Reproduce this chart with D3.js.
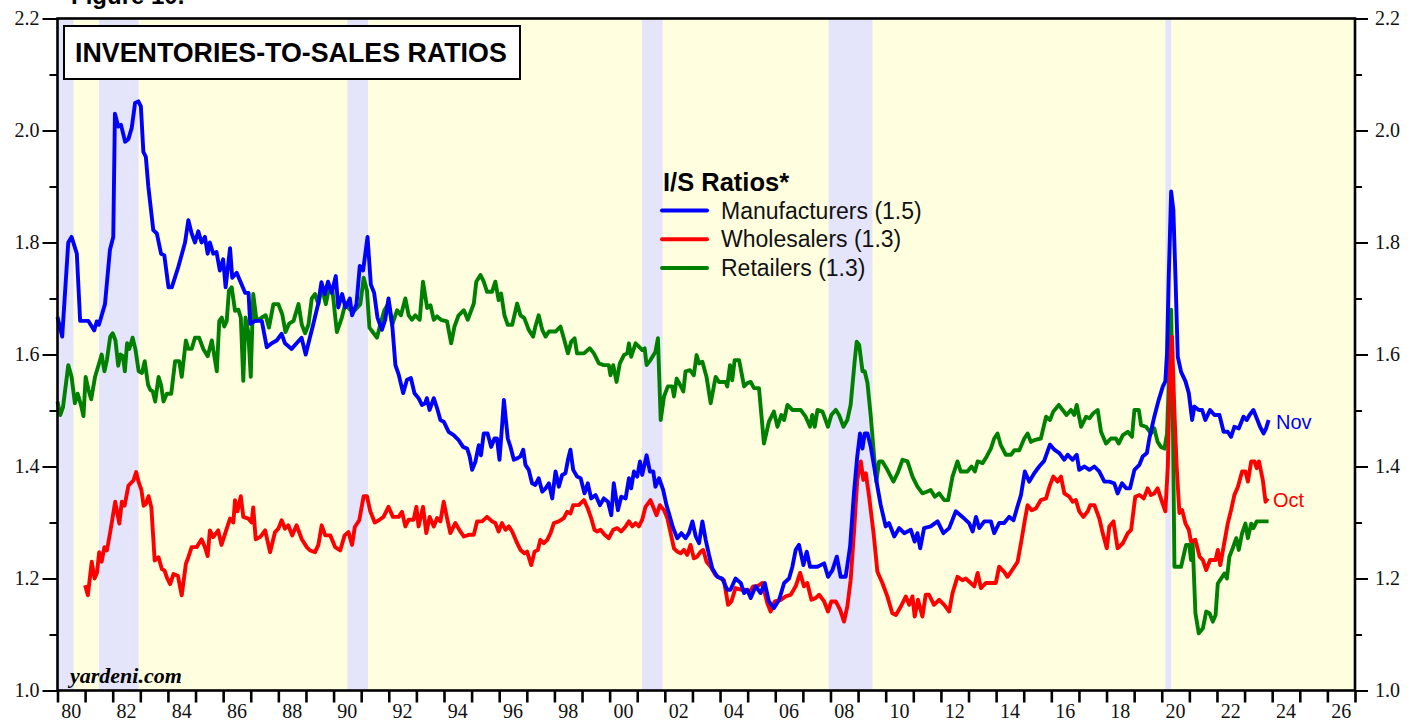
<!DOCTYPE html>
<html>
<head>
<meta charset="utf-8">
<script src="https://cdn.jsdelivr.net/npm/d3@7"></script>
<style>
  body { margin: 0; background: #fff; }
  svg { display: block; }
</style>
</head>
<body>
<svg id="chart" width="1421" height="721"></svg>
<script>
// recessions [start, end] in decimal years
const recessions = [[1980.0, 1980.58], [1981.5, 1982.94], [1990.5, 1991.25], [2001.17, 2001.92], [2007.93, 2009.52], [2020.13, 2020.34]];

const majorTicks = [1.0, 1.2, 1.4, 1.6, 1.8, 2.0, 2.2];
const minorTicks = [1.1, 1.3, 1.5, 1.7, 1.9, 2.1];
const years = d3.range(1980, 2028);
const labelYears = d3.range(1980, 2027, 2);

const seriesNames = ["Manufacturers (1.5)", "Wholesalers (1.3)", "Retailers (1.3)"];
const seriesColors = ["#0000ff", "#ff0000", "#008000"];

// [decimal year, ratio]
const manufacturers = [
  [1980.0,1.667],[1980.17,1.632],[1980.39,1.80],[1980.51,1.81],[1980.7,1.78],[1980.82,1.66],[1981.12,1.66],[1981.33,1.643],[1981.42,1.659],[1981.5,1.653],
  [1981.72,1.69],[1981.9,1.787],[1982.02,1.81],[1982.08,2.03],[1982.2,2.007],[1982.3,2.01],[1982.45,1.98],[1982.57,1.985],[1982.69,2.005],[1982.81,2.049],
  [1982.93,2.052],[1983.02,2.043],[1983.11,1.962],[1983.2,1.953],[1983.29,1.90],[1983.47,1.822],[1983.6,1.816],[1983.75,1.78],[1983.87,1.777],[1984.02,1.72],
  [1984.14,1.72],[1984.38,1.757],[1984.62,1.80],[1984.74,1.84],[1984.86,1.816],[1984.98,1.80],[1985.1,1.82],[1985.22,1.80],[1985.34,1.81],[1985.44,1.78],
  [1985.52,1.80],[1985.64,1.78],[1985.76,1.783],[1985.88,1.75],[1986.0,1.77],[1986.09,1.72],[1986.25,1.79],[1986.33,1.737],[1986.49,1.746],[1986.67,1.725],
  [1986.8,1.71],[1986.92,1.71],[1986.98,1.655],[1987.16,1.66],[1987.4,1.66],[1987.58,1.613],[1987.76,1.62],[1987.94,1.625],[1988.12,1.637],[1988.24,1.62],
  [1988.48,1.61],[1988.66,1.62],[1988.84,1.63],[1988.99,1.60],[1989.14,1.63],[1989.26,1.653],[1989.44,1.69],[1989.56,1.729],[1989.68,1.708],[1989.8,1.73],
  [1989.93,1.71],[1990.08,1.74],[1990.17,1.684],[1990.31,1.708],[1990.43,1.684],[1990.59,1.70],[1990.67,1.67],[1990.83,1.69],[1990.95,1.758],[1991.07,1.75],
  [1991.23,1.81],[1991.35,1.725],[1991.47,1.71],[1991.59,1.666],[1991.75,1.644],[1991.87,1.662],[1991.99,1.70],[1992.12,1.656],[1992.24,1.581],[1992.36,1.564],
  [1992.52,1.531],[1992.66,1.555],[1992.8,1.558],[1992.93,1.531],[1993.08,1.522],[1993.2,1.51],[1993.32,1.513],[1993.38,1.522],[1993.48,1.501],[1993.63,1.522],
  [1993.75,1.504],[1993.87,1.483],[1993.99,1.48],[1994.17,1.462],[1994.35,1.456],[1994.53,1.447],[1994.69,1.435],[1994.84,1.432],[1994.93,1.418],[1995.02,1.394],
  [1995.14,1.409],[1995.26,1.438],[1995.34,1.42],[1995.44,1.459],[1995.58,1.459],[1995.71,1.435],[1995.83,1.45],[1995.92,1.45],[1996.01,1.412],[1996.11,1.477],
  [1996.17,1.519],[1996.23,1.489],[1996.31,1.45],[1996.41,1.435],[1996.53,1.412],[1996.67,1.415],[1996.77,1.418],[1996.87,1.43],[1996.95,1.403],[1997.07,1.394],
  [1997.19,1.37],[1997.31,1.367],[1997.43,1.379],[1997.56,1.355],[1997.68,1.361],[1997.8,1.37],[1997.92,1.343],[1998.04,1.391],[1998.16,1.364],[1998.28,1.385],
  [1998.4,1.388],[1998.49,1.412],[1998.58,1.43],[1998.68,1.394],[1998.82,1.382],[1998.95,1.379],[1999.09,1.352],[1999.21,1.37],[1999.33,1.343],[1999.49,1.349],
  [1999.65,1.331],[1999.79,1.343],[1999.94,1.337],[2000.06,1.313],[2000.15,1.37],[2000.3,1.322],[2000.42,1.346],[2000.58,1.343],[2000.7,1.379],[2000.78,1.361],
  [2000.88,1.391],[2001.0,1.382],[2001.1,1.409],[2001.18,1.385],[2001.34,1.42],[2001.46,1.391],[2001.58,1.391],[2001.66,1.364],[2001.79,1.379],[2001.94,1.358],
  [2002.06,1.331],[2002.15,1.316],[2002.3,1.29],[2002.45,1.272],[2002.6,1.281],[2002.75,1.272],[2002.87,1.281],[2003.0,1.302],[2003.12,1.275],[2003.24,1.263],
  [2003.36,1.302],[2003.48,1.269],[2003.6,1.242],[2003.72,1.218],[2003.9,1.203],[2004.08,1.2],[2004.26,1.18],[2004.38,1.18],[2004.56,1.2],[2004.75,1.192],
  [2004.87,1.174],[2004.99,1.18],[2005.11,1.165],[2005.29,1.186],[2005.47,1.174],[2005.62,1.192],[2005.77,1.159],[2005.95,1.147],[2006.14,1.162],[2006.32,1.192],
  [2006.5,1.2],[2006.62,1.221],[2006.74,1.251],[2006.86,1.26],[2007.02,1.224],[2007.14,1.248],[2007.26,1.221],[2007.53,1.221],[2007.77,1.227],[2007.91,1.203],
  [2008.07,1.215],[2008.23,1.239],[2008.37,1.203],[2008.55,1.203],[2008.71,1.257],[2008.85,1.352],[2008.97,1.418],[2009.07,1.459],[2009.16,1.432],[2009.24,1.459],
  [2009.34,1.459],[2009.46,1.435],[2009.58,1.4],[2009.7,1.364],[2009.82,1.331],[2010.0,1.293],[2010.12,1.299],[2010.31,1.275],[2010.49,1.29],[2010.67,1.281],
  [2010.91,1.287],[2011.05,1.266],[2011.15,1.281],[2011.25,1.254],[2011.39,1.29],[2011.63,1.293],[2011.88,1.302],[2012.09,1.281],[2012.3,1.29],[2012.54,1.32],
  [2012.78,1.31],[2013.02,1.299],[2013.15,1.284],[2013.27,1.31],[2013.39,1.29],[2013.57,1.302],[2013.81,1.302],[2013.93,1.281],[2014.11,1.299],[2014.29,1.299],
  [2014.47,1.31],[2014.63,1.304],[2014.77,1.328],[2014.9,1.349],[2015.04,1.391],[2015.2,1.373],[2015.38,1.388],[2015.56,1.40],[2015.74,1.41],[2015.95,1.439],
  [2016.11,1.43],[2016.29,1.424],[2016.47,1.412],[2016.59,1.421],[2016.77,1.412],[2016.92,1.421],[2017.01,1.394],[2017.2,1.4],[2017.38,1.394],[2017.56,1.4],
  [2017.74,1.391],[2017.92,1.373],[2018.1,1.373],[2018.28,1.37],[2018.4,1.352],[2018.56,1.37],[2018.71,1.361],[2018.85,1.361],[2019.01,1.394],[2019.19,1.403],
  [2019.31,1.418],[2019.46,1.424],[2019.55,1.45],[2019.73,1.489],[2019.89,1.519],[2020.04,1.543],[2020.13,1.552],[2020.19,1.602],[2020.25,1.733],[2020.34,1.891],
  [2020.42,1.858],[2020.5,1.733],[2020.58,1.596],[2020.7,1.569],[2020.86,1.552],[2020.98,1.531],[2021.1,1.483],[2021.18,1.507],[2021.34,1.501],[2021.46,1.501],
  [2021.58,1.483],[2021.75,1.501],[2021.91,1.492],[2022.09,1.492],[2022.24,1.462],[2022.39,1.462],[2022.51,1.453],[2022.63,1.471],[2022.79,1.468],[2022.96,1.489],
  [2023.08,1.483],[2023.18,1.492],[2023.32,1.501],[2023.44,1.486],[2023.56,1.471],[2023.69,1.459],[2023.78,1.468],[2023.87,1.483]
];

const wholesalers = [
  [1981.0,1.188],[1981.1,1.17],[1981.24,1.23],[1981.34,1.20],[1981.43,1.21],[1981.51,1.247],[1981.6,1.23],[1981.7,1.256],[1981.79,1.25],[1981.91,1.283],
  [1982.09,1.337],[1982.24,1.298],[1982.33,1.337],[1982.43,1.33],[1982.57,1.366],[1982.75,1.375],[1982.85,1.39],[1982.94,1.372],[1983.04,1.358],[1983.12,1.33],
  [1983.2,1.333],[1983.3,1.347],[1983.4,1.327],[1983.52,1.232],[1983.66,1.238],[1983.78,1.217],[1983.88,1.214],[1983.96,1.202],[1984.08,1.19],[1984.2,1.208],
  [1984.36,1.205],[1984.5,1.17],[1984.65,1.226],[1984.74,1.238],[1984.86,1.256],[1985.04,1.256],[1985.22,1.27],[1985.34,1.256],[1985.44,1.24],[1985.52,1.286],
  [1985.64,1.274],[1985.82,1.286],[1985.94,1.26],[1986.13,1.289],[1986.25,1.307],[1986.37,1.30],[1986.43,1.34],[1986.52,1.32],[1986.64,1.347],[1986.73,1.31],
  [1986.91,1.307],[1987.03,1.30],[1987.09,1.327],[1987.18,1.27],[1987.34,1.274],[1987.52,1.286],[1987.7,1.247],[1987.88,1.283],[1988.0,1.289],[1988.12,1.304],
  [1988.24,1.289],[1988.36,1.295],[1988.5,1.277],[1988.66,1.295],[1988.85,1.27],[1989.03,1.256],[1989.15,1.25],[1989.33,1.247],[1989.45,1.26],[1989.57,1.295],
  [1989.7,1.277],[1989.88,1.277],[1990.06,1.256],[1990.24,1.25],[1990.4,1.277],[1990.54,1.283],[1990.67,1.26],[1990.77,1.292],[1990.93,1.304],[1991.09,1.347],
  [1991.21,1.347],[1991.33,1.32],[1991.49,1.30],[1991.64,1.304],[1991.81,1.31],[1991.99,1.328],[1992.15,1.31],[1992.36,1.31],[1992.48,1.319],[1992.6,1.293],
  [1992.72,1.305],[1992.9,1.305],[1993.0,1.328],[1993.08,1.293],[1993.24,1.328],[1993.36,1.281],[1993.48,1.31],[1993.63,1.293],[1993.75,1.308],[1993.87,1.302],
  [1993.99,1.337],[1994.11,1.308],[1994.23,1.281],[1994.41,1.299],[1994.59,1.284],[1994.72,1.275],[1994.9,1.278],[1995.08,1.278],[1995.2,1.302],[1995.38,1.302],
  [1995.56,1.31],[1995.74,1.302],[1995.86,1.299],[1995.98,1.284],[1996.1,1.299],[1996.23,1.287],[1996.35,1.293],[1996.47,1.284],[1996.65,1.263],[1996.77,1.251],
  [1996.91,1.245],[1997.01,1.248],[1997.16,1.224],[1997.28,1.248],[1997.4,1.251],[1997.49,1.269],[1997.62,1.263],[1997.74,1.269],[1997.86,1.281],[1997.98,1.299],
  [1998.16,1.302],[1998.34,1.308],[1998.46,1.319],[1998.58,1.316],[1998.68,1.331],[1998.88,1.331],[1999.07,1.34],[1999.21,1.325],[1999.33,1.308],[1999.45,1.287],
  [1999.55,1.284],[1999.67,1.287],[1999.82,1.278],[1999.97,1.272],[2000.13,1.287],[2000.27,1.29],[2000.42,1.284],[2000.58,1.293],[2000.7,1.302],[2000.82,1.293],
  [2000.94,1.299],[2001.06,1.293],[2001.18,1.305],[2001.3,1.328],[2001.48,1.34],[2001.6,1.325],[2001.7,1.313],[2001.82,1.331],[2001.97,1.322],[2002.09,1.308],
  [2002.21,1.281],[2002.33,1.254],[2002.45,1.248],[2002.57,1.245],[2002.69,1.251],[2002.81,1.242],[2002.93,1.26],[2003.05,1.236],[2003.17,1.239],[2003.3,1.248],
  [2003.39,1.251],[2003.51,1.23],[2003.66,1.221],[2003.84,1.206],[2004.02,1.2],[2004.14,1.197],[2004.29,1.153],[2004.41,1.159],[2004.56,1.183],[2004.75,1.18],
  [2004.93,1.18],[2005.05,1.174],[2005.2,1.186],[2005.35,1.186],[2005.53,1.192],[2005.71,1.156],[2005.83,1.141],[2005.98,1.159],[2006.2,1.162],[2006.38,1.168],
  [2006.56,1.171],[2006.74,1.186],[2006.9,1.21],[2007.04,1.186],[2007.16,1.192],[2007.31,1.162],[2007.46,1.165],[2007.59,1.171],[2007.77,1.159],[2007.91,1.141],
  [2008.03,1.159],[2008.19,1.159],[2008.35,1.144],[2008.49,1.123],[2008.61,1.15],[2008.73,1.197],[2008.85,1.281],[2008.97,1.376],[2009.1,1.409],[2009.19,1.376],
  [2009.28,1.388],[2009.4,1.346],[2009.56,1.281],[2009.7,1.212],[2009.88,1.192],[2010.06,1.168],[2010.24,1.138],[2010.37,1.135],[2010.55,1.15],[2010.73,1.168],
  [2010.85,1.153],[2010.97,1.168],[2011.05,1.132],[2011.17,1.162],[2011.33,1.132],[2011.45,1.171],[2011.57,1.171],[2011.75,1.153],[2011.94,1.162],[2012.12,1.153],
  [2012.3,1.141],[2012.42,1.174],[2012.6,1.203],[2012.78,1.197],[2012.9,1.2],[2013.08,1.192],[2013.21,1.186],[2013.33,1.21],[2013.45,1.183],[2013.63,1.192],
  [2013.99,1.192],[2014.11,1.221],[2014.29,1.212],[2014.41,1.203],[2014.54,1.212],[2014.66,1.221],[2014.78,1.23],[2014.9,1.263],[2015.04,1.304],[2015.14,1.331],
  [2015.29,1.322],[2015.44,1.325],[2015.62,1.34],[2015.81,1.343],[2015.93,1.364],[2016.07,1.382],[2016.23,1.373],[2016.35,1.382],[2016.47,1.352],[2016.65,1.346],
  [2016.77,1.337],[2016.89,1.34],[2017.01,1.32],[2017.16,1.31],[2017.32,1.32],[2017.41,1.331],[2017.56,1.331],[2017.74,1.307],[2017.86,1.281],[2018.01,1.254],
  [2018.1,1.293],[2018.25,1.302],[2018.4,1.254],[2018.59,1.263],[2018.77,1.281],[2018.89,1.287],[2019.04,1.346],[2019.19,1.349],[2019.35,1.343],[2019.49,1.361],
  [2019.61,1.349],[2019.73,1.352],[2019.85,1.361],[2020.01,1.337],[2020.13,1.32],[2020.22,1.4],[2020.3,1.578],[2020.37,1.632],[2020.46,1.495],[2020.54,1.4],
  [2020.64,1.317],[2020.74,1.322],[2020.86,1.298],[2020.98,1.287],[2021.06,1.266],[2021.22,1.269],[2021.37,1.239],[2021.49,1.233],[2021.61,1.215],[2021.75,1.233],
  [2021.95,1.233],[2022.03,1.251],[2022.12,1.224],[2022.24,1.257],[2022.39,1.298],[2022.51,1.322],[2022.63,1.349],[2022.76,1.364],[2022.91,1.391],[2023.03,1.391],
  [2023.12,1.373],[2023.24,1.409],[2023.36,1.409],[2023.44,1.397],[2023.52,1.409],[2023.66,1.376],[2023.76,1.337],[2023.84,1.343]
];

const retailers = [
  [1980.0,1.516],[1980.1,1.492],[1980.2,1.506],[1980.39,1.581],[1980.51,1.56],[1980.63,1.513],[1980.73,1.53],[1980.85,1.51],[1980.94,1.49],[1981.02,1.56],
  [1981.12,1.537],[1981.22,1.52],[1981.36,1.56],[1981.48,1.58],[1981.6,1.60],[1981.7,1.57],[1981.79,1.59],[1981.91,1.632],[1982.0,1.638],[1982.1,1.625],
  [1982.2,1.58],[1982.28,1.60],[1982.37,1.597],[1982.44,1.57],[1982.52,1.62],[1982.6,1.61],[1982.72,1.63],[1982.82,1.61],[1982.94,1.57],[1983.06,1.567],
  [1983.16,1.588],[1983.28,1.546],[1983.36,1.537],[1983.45,1.534],[1983.54,1.516],[1983.66,1.56],[1983.75,1.546],[1983.84,1.516],[1983.96,1.53],[1984.12,1.53],
  [1984.26,1.588],[1984.41,1.588],[1984.5,1.56],[1984.65,1.625],[1984.74,1.61],[1984.86,1.61],[1984.98,1.63],[1985.13,1.63],[1985.28,1.61],[1985.44,1.597],
  [1985.59,1.625],[1985.77,1.57],[1985.86,1.66],[1985.95,1.666],[1986.04,1.65],[1986.13,1.66],[1986.21,1.714],[1986.31,1.72],[1986.43,1.678],[1986.55,1.68],
  [1986.64,1.666],[1986.73,1.553],[1986.81,1.666],[1986.91,1.64],[1987.0,1.56],[1987.09,1.708],[1987.21,1.66],[1987.4,1.666],[1987.54,1.67],[1987.66,1.648],
  [1987.82,1.69],[1988.0,1.69],[1988.14,1.672],[1988.26,1.64],[1988.39,1.655],[1988.55,1.66],[1988.73,1.69],[1988.85,1.653],[1988.97,1.638],[1989.09,1.653],
  [1989.21,1.70],[1989.33,1.708],[1989.45,1.69],[1989.57,1.72],[1989.72,1.69],[1989.84,1.72],[1989.96,1.714],[1990.12,1.64],[1990.3,1.666],[1990.42,1.69],
  [1990.6,1.68],[1990.79,1.68],[1990.97,1.69],[1991.09,1.737],[1991.21,1.714],[1991.3,1.648],[1991.45,1.638],[1991.57,1.63],[1991.69,1.653],[1991.84,1.679],
  [1991.99,1.691],[1992.12,1.653],[1992.3,1.679],[1992.44,1.67],[1992.6,1.70],[1992.72,1.67],[1992.84,1.662],[1992.96,1.67],[1993.12,1.662],[1993.24,1.73],
  [1993.39,1.683],[1993.51,1.688],[1993.63,1.662],[1993.75,1.668],[1993.89,1.662],[1994.11,1.659],[1994.26,1.62],[1994.38,1.65],[1994.53,1.67],[1994.72,1.679],
  [1994.86,1.662],[1995.08,1.691],[1995.17,1.73],[1995.32,1.742],[1995.44,1.73],[1995.56,1.712],[1995.74,1.712],[1995.86,1.73],[1995.98,1.697],[1996.07,1.709],
  [1996.19,1.67],[1996.31,1.653],[1996.47,1.653],[1996.65,1.691],[1996.77,1.67],[1996.91,1.665],[1997.07,1.644],[1997.23,1.632],[1997.31,1.65],[1997.43,1.67],
  [1997.56,1.644],[1997.68,1.632],[1997.8,1.641],[1998.04,1.641],[1998.22,1.65],[1998.34,1.629],[1998.49,1.602],[1998.61,1.623],[1998.73,1.629],[1998.82,1.602],
  [1999.07,1.602],[1999.28,1.611],[1999.43,1.602],[1999.61,1.584],[1999.79,1.581],[1999.97,1.581],[2000.03,1.563],[2000.13,1.581],[2000.25,1.551],[2000.37,1.584],
  [2000.52,1.599],[2000.64,1.602],[2000.7,1.62],[2000.78,1.596],[2000.94,1.62],[2001.06,1.614],[2001.18,1.608],[2001.27,1.611],[2001.34,1.581],[2001.48,1.59],
  [2001.66,1.605],[2001.75,1.629],[2001.85,1.483],[2001.97,1.525],[2002.11,1.543],[2002.27,1.543],[2002.33,1.525],[2002.43,1.557],[2002.55,1.546],[2002.67,1.534],
  [2002.75,1.57],[2002.91,1.572],[2003.05,1.563],[2003.15,1.599],[2003.24,1.584],[2003.36,1.587],[2003.51,1.56],[2003.66,1.513],[2003.84,1.56],[2003.96,1.551],
  [2004.2,1.551],[2004.26,1.543],[2004.36,1.581],[2004.44,1.554],[2004.53,1.59],[2004.69,1.59],[2004.87,1.543],[2004.99,1.549],[2005.11,1.551],[2005.23,1.54],
  [2005.41,1.54],[2005.59,1.441],[2005.77,1.48],[2005.95,1.498],[2006.08,1.471],[2006.22,1.492],[2006.32,1.483],[2006.44,1.51],[2006.62,1.501],[2006.92,1.501],
  [2007.1,1.489],[2007.26,1.471],[2007.34,1.492],[2007.43,1.471],[2007.53,1.501],[2007.71,1.498],[2007.91,1.471],[2008.03,1.492],[2008.19,1.501],[2008.31,1.492],
  [2008.47,1.471],[2008.61,1.483],[2008.73,1.51],[2008.88,1.59],[2008.95,1.623],[2009.04,1.617],[2009.16,1.57],[2009.24,1.57],[2009.34,1.549],[2009.46,1.489],
  [2009.58,1.418],[2009.66,1.373],[2009.76,1.409],[2009.88,1.409],[2010.06,1.394],[2010.28,1.373],[2010.43,1.388],[2010.61,1.412],[2010.79,1.409],[2010.97,1.382],
  [2011.15,1.364],[2011.33,1.352],[2011.49,1.355],[2011.63,1.358],[2011.78,1.346],[2011.94,1.352],[2012.12,1.34],[2012.26,1.34],[2012.42,1.382],[2012.6,1.409],
  [2012.72,1.391],[2012.96,1.391],[2013.11,1.4],[2013.23,1.391],[2013.33,1.409],[2013.51,1.406],[2013.66,1.418],[2013.81,1.432],[2013.93,1.45],[2014.05,1.459],
  [2014.17,1.438],[2014.35,1.421],[2014.54,1.421],[2014.66,1.429],[2014.84,1.429],[2015.02,1.45],[2015.14,1.459],[2015.26,1.444],[2015.38,1.447],[2015.62,1.45],
  [2015.81,1.489],[2015.95,1.483],[2016.07,1.498],[2016.27,1.51],[2016.41,1.501],[2016.55,1.492],[2016.71,1.501],[2016.83,1.492],[2016.92,1.51],[2017.08,1.471],
  [2017.26,1.489],[2017.38,1.486],[2017.52,1.495],[2017.68,1.501],[2017.8,1.462],[2017.98,1.441],[2018.16,1.45],[2018.34,1.45],[2018.44,1.441],[2018.59,1.456],
  [2018.77,1.462],[2018.92,1.453],[2019.01,1.501],[2019.17,1.501],[2019.25,1.474],[2019.43,1.471],[2019.61,1.459],[2019.73,1.468],[2019.85,1.444],[2019.97,1.435],
  [2020.1,1.432],[2020.19,1.459],[2020.28,1.578],[2020.34,1.68],[2020.4,1.495],[2020.46,1.221],[2020.7,1.221],[2020.88,1.26],[2021.0,1.26],[2021.06,1.233],
  [2021.12,1.263],[2021.22,1.138],[2021.34,1.102],[2021.49,1.111],[2021.61,1.141],[2021.73,1.138],[2021.85,1.123],[2021.95,1.135],[2022.03,1.191],[2022.19,1.203],
  [2022.27,1.209],[2022.36,1.2],[2022.45,1.239],[2022.57,1.254],[2022.7,1.272],[2022.79,1.251],[2022.91,1.281],[2023.03,1.298],[2023.12,1.272],[2023.24,1.298],
  [2023.32,1.29],[2023.44,1.302],[2023.87,1.302]
];

const plotLeft = 57.5, plotRight = 1355, plotTop = 18.5, plotBottom = 690.5;
const serif = "'Liberation Serif', 'Times New Roman', serif";
const sans = "'Liberation Sans', Arial, Helvetica, sans-serif";

const svg = d3.select("#chart");

const x = d3.scaleLinear().domain([1980, 2027]).range([plotLeft, plotRight]);
const y = d3.scaleLinear().domain([1.0, 2.2]).range([plotBottom, plotTop]);

// plot background
svg.append("rect")
  .attr("x", plotLeft).attr("y", plotTop)
  .attr("width", plotRight - plotLeft).attr("height", plotBottom - plotTop)
  .attr("fill", "#ffffe0");

svg.selectAll("rect.rec")
  .data(recessions)
  .enter()
  .append("rect")
  .attr("class", "rec")
  .attr("x", d => x(d[0]))
  .attr("y", plotTop)
  .attr("width", d => x(d[1]) - x(d[0]))
  .attr("height", plotBottom - plotTop)
  .attr("fill", "#e4e4fb");

// title box
svg.append("rect")
  .attr("x", 64).attr("y", 26).attr("width", 456).attr("height", 53)
  .attr("fill", "#fff").attr("stroke", "#000").attr("stroke-width", 2);
svg.append("text")
  .attr("x", 75).attr("y", 62)
  .attr("font-family", sans).attr("font-weight", "bold").attr("font-size", 26.8)
  .text("INVENTORIES-TO-SALES RATIOS");

// figure caption, clipped by the page top as in the source
svg.append("text")
  .attr("x", 71).attr("y", 3.5)
  .attr("font-family", sans).attr("font-weight", "bold").attr("font-size", 24)
  .text("Figure 10.");

// lines
const line = d3.line()
  .x(d => x(d[0]))
  .y(d => y(d[1]));

const series = [
  { data: retailers, color: seriesColors[2] },
  { data: wholesalers, color: seriesColors[1] },
  { data: manufacturers, color: seriesColors[0] }
];

svg.selectAll("path.series")
  .data(series)
  .enter()
  .append("path")
  .attr("class", "series")
  .attr("d", d => line(d.data))
  .attr("fill", "none")
  .attr("stroke", d => d.color)
  .attr("stroke-width", 3.9)
  .attr("stroke-linejoin", "round");

// legend
svg.append("text")
  .attr("x", 663).attr("y", 191)
  .attr("font-family", sans).attr("font-weight", "bold").attr("font-size", 25.5)
  .text("I/S Ratios*");

const legend = svg.selectAll("g.legend")
  .data(seriesNames)
  .enter()
  .append("g")
  .attr("class", "legend")
  .attr("transform", (d, i) => `translate(0,${210.5 + i * 28.7})`);
legend.append("line")
  .attr("x1", 662).attr("x2", 707)
  .attr("stroke", (d, i) => seriesColors[i])
  .attr("stroke-width", 4)
  .attr("stroke-linecap", "round");
legend.append("text")
  .attr("x", 721).attr("y", 8)
  .attr("font-family", sans).attr("font-size", 23)
  .attr("fill", "#111")
  .text(d => d);

// end labels
svg.append("text")
  .attr("x", 1276).attr("y", 429)
  .attr("font-family", sans).attr("font-size", 20).attr("fill", "#0000ff")
  .text("Nov");
svg.append("text")
  .attr("x", 1273).attr("y", 507)
  .attr("font-family", sans).attr("font-size", 20).attr("fill", "#ff0000")
  .text("Oct");

svg.append("text")
  .attr("x", 70).attr("y", 683)
  .attr("font-family", serif).attr("font-weight", "bold").attr("font-style", "italic").attr("font-size", 22)
  .text("yardeni.com");

// axes
const fmt = d3.format(".1f");
const leftMajor = svg.append("g").attr("transform", `translate(${plotLeft},0)`)
  .call(d3.axisLeft(y).tickValues(majorTicks).tickSize(15).tickFormat(fmt));
const leftMinor = svg.append("g").attr("transform", `translate(${plotLeft},0)`)
  .call(d3.axisLeft(y).tickValues(minorTicks).tickSize(8).tickFormat(""));
const rightMajor = svg.append("g").attr("transform", `translate(${plotRight},0)`)
  .call(d3.axisRight(y).tickValues(majorTicks).tickSize(13).tickPadding(7).tickFormat(fmt));
const rightMinor = svg.append("g").attr("transform", `translate(${plotRight},0)`)
  .call(d3.axisRight(y).tickValues(minorTicks).tickSize(7).tickFormat(""));
const xAxis = svg.append("g").attr("transform", `translate(0,${plotBottom})`)
  .call(d3.axisBottom(x).tickValues(years).tickSize(12).tickFormat(""));

[leftMajor, leftMinor, rightMajor, rightMinor, xAxis].forEach(g => {
  g.select(".domain").remove();
  g.selectAll(".tick line").attr("stroke", "#000").attr("stroke-width", 2);
  g.selectAll(".tick text")
    .attr("font-family", serif).attr("font-size", 20).attr("fill", "#111");
});
xAxis.selectAll(".tick line").attr("stroke-width", 2.6);

svg.append("g")
  .selectAll("text")
  .data(labelYears)
  .enter()
  .append("text")
  .attr("x", d => x(d + 0.5))
  .attr("y", 718)
  .attr("text-anchor", "middle")
  .attr("font-family", serif).attr("font-size", 20).attr("fill", "#111")
  .text(d => String(d % 100).padStart(2, "0"));

// frame
svg.append("rect")
  .attr("x", plotLeft).attr("y", plotTop)
  .attr("width", plotRight - plotLeft).attr("height", plotBottom - plotTop)
  .attr("fill", "none").attr("stroke", "#000").attr("stroke-width", 2.6);
</script>
</body>
</html>
